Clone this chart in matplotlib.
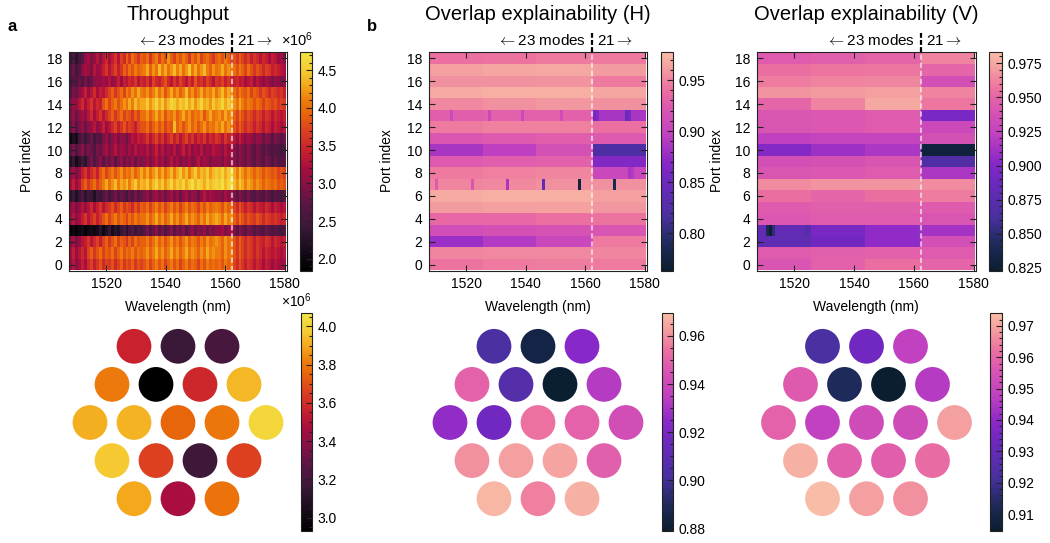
import numpy as np
import matplotlib
matplotlib.use('Agg')
import matplotlib.pyplot as plt
from matplotlib.colors import LinearSegmentedColormap
from matplotlib.patches import Circle
from matplotlib.ticker import MultipleLocator, FormatStrFormatter
import matplotlib.transforms as mtrans

plt.rcParams['font.family'] = ['Liberation Sans', 'DejaVu Sans']
plt.rcParams['mathtext.fontset'] = 'custom'
plt.rcParams['mathtext.rm'] = 'Liberation Sans'
plt.rcParams['mathtext.it'] = 'Liberation Sans:italic'

# ---------------- data ----------------
wavelengths = np.arange(1508, 1581)          # nm, 73 columns
ports = np.arange(19)
mode_switch_nm = 1562.3                      # 23 modes | 21 modes

# throughput (x1e6, stored x10), rows = port 18 ... port 0
throughput_rows_top_down = [
    [24,26,23,25,27, 30,32,29,31,33,30, 33,35,32,34,36,33, 37,35,39,36,40,38,36,39, 38,40,36,39,41,37,40,38,42,39,37,40,38,41,39,36,40,38,41,37,39,40,38,36,39, 40,38,41,39,37, 38,36,39,37,35,37,34,36,35,33,35,34,32,34,33,31,32,30],
    [26,28,25,27, 30,32,31,29,33,31,32, 34,36,33,35,37,34,36, 39,37,40,38,41,39,40, 41,43,39,42,40,44,41,43,40,42,44,41,43,40,42,45,41,43,40,42,44,41,39,42,40, 41,43,40,42,41, 40,38,41,39,37,40,38,36,38,37,35,37,36,34,35,34,33,32],
    [25,27,26,28,26,29,27,28,30, 31,30,32,31,33,30,32,34,31, 34,33,35,34,36,33,35, 34,36,33,37,35,34,36,38,35,33,36,34,37,35,33,36,34,38,35,36,34,37,35,33,36, 35,37,34,36,35, 34,35,33,34,32,33,34,31,33,32,30,32,31,29,31,30,29,30],
    [27,29,28,30, 32,34,31,33,35,32,34,33,35, 37,39,36,38,40,37, 41,39,42,40,43,41, 40,42,39,41,43,40,42,38,41,43,40,42,39,41,44,40,42,39,41,43,40,42,41,43,40, 42,44,41,43,42, 40,38,41,39,38,40,37,39,38,36,38,37,35,37,36,35,36,34],
    [29,31,30, 33,35,32,34,36,33,35,34, 38,40,37,39,41,38,40, 42,40,43,41,44,42,43, 43,45,42,44,46,43,45,42,44,46,45,43,45,44,46,43,45,42,44,46,43,44,42,45,43, 44,46,43,45,44, 42,40,43,41,39,41,40,38,40,39,37,39,38,37,38,36,37,36],
    [29,31,28,30,32,30, 33,35,32,34,36,33,35, 37,39,36,38,40,37,39,38,36,39,37,40, 40,42,39,41,43,40,42,38,41,40,42,39,41,43,40,42,39,41,40,42,38,41,43,40,41, 42,40,43,41,42, 39,37,40,38,36,38,37,35,37,36,34,36,35,33,35,34,33,34],
    [28,30,27,29,31,28,30, 31,33,30,32,34,31,33, 35,37,34,36,38,35,37,36,34,37,38, 38,40,37,39,41,38,40,37,39,38,44,39,41,38,40,42,39,41,38,40,42,39,41,40,42, 41,43,40,42,41, 38,36,39,37,35,37,36,34,36,35,33,35,34,32,34,33,32,33],
    [20,22,21, 25,27,24,26,28,25,27,26, 29,31,28,30,32,29,31,30,28,31, 33,32,34,33, 34,36,33,35,37,34,36,33,35,37,34,36,33,35,37,34,36,33,35,34,36,33,35,34,36, 35,33,36,34,35, 33,31,34,32,30,32,31,29,31,30,28,30,29,27,29,28,27,28],
    [27,29,26,28,30,27,29,28,26,29,28, 30,32,29,31,33,30,32,31,29,32,30,33,31,32, 31,33,30,32,34,31,33,30,32,31,33,30,32,34,31,33,30,32,31,33,30,32,31,33,32, 32,30,33,31,32, 30,28,31,29,28,30,28,27,29,28,26,28,27,26,27,26,25,26],
    [22,24,21,23,25,23, 27,29,26,28,30,27,29,28,30,27,29,31,28,30,29,31,28,30,29, 30,32,29,31,33,30,32,29,31,33,30,32,29,31,30,32,29,31,33,30,32,31,29,31,30, 31,29,32,30,31, 30,28,31,29,28,30,28,27,29,28,27,29,28,26,28,27,26,27],
    [30,32,29,31, 34,36,33,35,37,34, 38,40,37,39,41,38,40,42,39,41,40,42,39,41,43, 41,43,40,42,44,41,43,40,42,44,41,43,45,42,44,41,43,45,42,44,43,45,42,44,45, 44,46,43,45,46, 43,41,44,42,40,42,41,39,41,40,38,40,39,38,39,37,38,37],
    [32,34,31,33, 37,39,36,38,40,37,39, 41,43,40,42,44,41,43,42,44,41,43,45,42,44, 43,45,42,44,46,43,45,42,44,46,43,45,44,46,43,45,47,44,46,45,43,46,44,45,46, 45,47,44,46,47, 44,42,45,43,41,43,42,40,42,41,39,41,40,39,40,38,39,38],
    [23,25,22,24,26,23,25,24,22,25,24, 26,28,25,27,29,26,28,27,25,28,26,29,27,28, 29,31,28,30,32,29,31,28,30,32,29,31,28,30,32,29,31,30,28,31,33,30,32,31,30, 31,29,32,30,31, 29,27,30,28,27,29,27,26,28,27,26,28,27,25,27,26,25,26],
    [30,32,29,31,33,31, 33,35,32,34,36,33,35, 36,38,35,37,39,36,38,37,35,38,36,39, 38,40,37,39,41,38,40,37,39,41,38,40,37,39,41,38,40,39,37,40,38,41,39,40,41, 40,38,41,39,40, 37,35,38,36,34,36,35,33,35,34,33,35,34,32,34,33,32,33],
    [31,33,30,32, 34,36,33,35,37,34,36, 38,40,37,39,41,38,40,39,37,40,38,41,39,40, 40,42,39,41,43,40,42,39,41,43,40,42,39,41,43,40,42,41,39,42,40,43,41,42,43, 42,40,43,41,42, 39,37,40,38,36,38,37,36,38,37,35,37,36,35,36,35,34,35],
    [19,20,19,20,21,19,20,21,20, 21,23,20,22,24,21,23,22, 24,26,23,25,27,24,26,25, 27,29,26,28,30,27,29,26,28,30,27,29,28,30,27,29,31,28,30,29,31,28,30,29,31, 30,32,29,31,32, 29,27,30,28,27,29,28,26,28,27,26,28,27,26,27,26,25,26],
    [30,32,29,31,33, 34,36,33,35,37,34, 37,39,36,38,40,37,39,38,36,39,37,40,38,39, 39,41,38,40,42,39,41,38,40,42,39,41,38,40,42,39,41,40,38,41,39,42,40,41,42, 41,39,42,40,41, 38,36,39,37,35,37,36,34,36,35,34,36,35,33,35,34,33,34],
    [32,34,31,33,35,33, 37,39,36,38,40,37,39,38,40,37,39,41,38,40,39,41,38,40,39, 40,42,39,41,43,40,42,39,41,43,40,42,39,41,43,40,42,41,39,42,40,43,41,42,41, 41,39,42,40,41, 38,36,39,37,35,37,36,34,36,35,33,35,34,33,34,33,32,33],
    [31,33,30,32,34,32, 35,37,34,36,38,35,37,36,38,35,37,39,36,38,37,39,36,38,37, 38,40,37,39,41,38,40,37,39,41,38,40,37,39,41,38,40,39,37,40,38,41,39,40,39, 40,38,41,39,40, 37,35,38,36,34,36,35,33,35,34,32,34,33,31,33,32,31,32],
]

# overlap explainability: block values per port (rows = port 18 ... port 0)
block_cols = [(0, 18), (18, 36), (36, 55), (55, 73)]
h_blocks_top_down = [
    [0.940, 0.942, 0.945, 0.945], [0.962, 0.965, 0.966, 0.960], [0.955, 0.955, 0.957, 0.945],
    [0.968, 0.970, 0.970, 0.965], [0.952, 0.955, 0.958, 0.955], [0.928, 0.930, 0.930, 0.885],
    [0.945, 0.948, 0.948, 0.940], [0.922, 0.925, 0.928, 0.925], [0.885, 0.895, 0.915, 0.820],
    [0.925, 0.928, 0.930, 0.865], [0.945, 0.948, 0.950, 0.905], [0.950, 0.952, 0.955, 0.955],
    [0.968, 0.970, 0.970, 0.962], [0.960, 0.962, 0.963, 0.958], [0.935, 0.935, 0.940, 0.942],
    [0.912, 0.915, 0.918, 0.920], [0.878, 0.890, 0.905, 0.945], [0.950, 0.952, 0.952, 0.950],
    [0.942, 0.945, 0.947, 0.945],
]
h_spots = [  # (port, column, value)
    (13, 7, 0.905), (13, 20, 0.905), (13, 31, 0.905), (13, 44, 0.91),
    (13, 55, 0.855), (13, 56, 0.865), (13, 66, 0.845), (13, 67, 0.86),
    (7, 2, 0.925), (7, 14, 0.92), (7, 26, 0.885), (7, 38, 0.84), (7, 50, 0.772),
    (7, 62, 0.785), (8, 67, 0.885), (8, 68, 0.89),
]
v_blocks_top_down = [
    [0.945, 0.947, 0.950, 0.962], [0.955, 0.957, 0.958, 0.950], [0.960, 0.962, 0.963, 0.935],
    [0.968, 0.970, 0.972, 0.962], [0.950, 0.962, 0.975, 0.958], [0.940, 0.942, 0.945, 0.895],
    [0.940, 0.942, 0.945, 0.930], [0.922, 0.925, 0.925, 0.937], [0.900, 0.910, 0.915, 0.830],
    [0.935, 0.937, 0.940, 0.868], [0.940, 0.942, 0.945, 0.915], [0.965, 0.967, 0.967, 0.965],
    [0.955, 0.950, 0.955, 0.960], [0.945, 0.947, 0.947, 0.945], [0.942, 0.945, 0.945, 0.940],
    [0.880, 0.895, 0.905, 0.912], [0.878, 0.890, 0.905, 0.935], [0.945, 0.947, 0.948, 0.945],
    [0.940, 0.948, 0.955, 0.950],
]
v_spots = [(3, 3, 0.84), (3, 4, 0.825), (3, 5, 0.85), (3, 16, 0.87), (3, 17, 0.875)]

# fibre-bundle (hexagonal) averages, read row by row from top
hex_row_counts = [3, 4, 5, 4, 3]
thr_hex = [3.56, 3.16, 3.21,
           3.81, 2.93, 3.58, 3.93,
           3.91, 3.92, 3.75, 3.80, 4.02,
           3.97, 3.66, 3.17, 3.66,
           3.90, 3.47, 3.79]
h_hex = [0.902, 0.885, 0.924,
         0.950, 0.906, 0.880, 0.933,
         0.926, 0.917, 0.954, 0.950, 0.942,
         0.960, 0.963, 0.964, 0.949,
         0.968, 0.957, 0.967]
v_hex = [0.922, 0.934, 0.948,
         0.957, 0.913, 0.905, 0.946,
         0.959, 0.948, 0.952, 0.952, 0.969,
         0.972, 0.958, 0.958, 0.961,
         0.974, 0.969, 0.967]

# ---------------- colormaps ----------------
thr_cmap = LinearSegmentedColormap.from_list('thr', [
    (0.0, '#000000'), (0.1, '#1a0c1c'), (0.2, '#3a1838'), (0.3, '#5a1545'),
    (0.4, '#8a1045'), (0.47, '#a80d40'), (0.55, '#c8202e'), (0.64, '#dc4020'),
    (0.72, '#e8650a'), (0.78, '#ee7c0c'), (0.85, '#f4a81c'), (0.91, '#f4c830'),
    (1.0, '#f2e444')])
ov_cmap = LinearSegmentedColormap.from_list('ov', [
    (0.0, '#0a1e30'), (0.12, '#1e2a5a'), (0.25, '#4a30a0'), (0.42, '#7028c0'),
    (0.5, '#8a28c8'), (0.62, '#c040c0'), (0.75, '#dc58b0'), (0.83, '#ec70a0'),
    (0.93, '#f4a0a0'), (1.0, '#f9bca6')])


def build_blocks(blocks_top_down, spots):
    M = np.zeros((19, len(wavelengths)))
    for i, row in enumerate(blocks_top_down):
        port = 18 - i
        for (c0, c1), v in zip(block_cols, row):
            M[port, c0:c1] = v
    for port, col, v in spots:
        M[port, col] = v
    return M


thr = np.array(throughput_rows_top_down, dtype=float)[::-1] / 10.0
H = build_blocks(h_blocks_top_down, h_spots)
V = build_blocks(v_blocks_top_down, v_spots)

# ---------------- figure ----------------
W, Hh = 1050, 543
fig = plt.figure(figsize=(W / 100, Hh / 100), dpi=100)


def box(l, t, r, b):
    return [l / W, 1 - b / Hh, (r - l) / W, (b - t) / Hh]


def ftext(x, y, s, **kw):
    fig.text(x / W, 1 - y / Hh, s, **kw)


spine_c = '#222222'
xedges = np.append(wavelengths - 0.5, wavelengths[-1] + 0.5)
yedges = np.arange(-0.5, 19.5, 1.0)


def heat(l, r, M, cmap, vmin, vmax):
    ax = fig.add_axes(box(l, 52, r, 271))
    pcm = ax.pcolormesh(xedges, yedges, M, cmap=cmap, vmin=vmin, vmax=vmax,
                        shading='flat', rasterized=True)
    ax.set_xlim(1507.5, 1580.8)
    ax.set_ylim(-0.55, 18.55)
    ax.set_xticks([1520, 1540, 1560, 1580])
    ax.set_yticks(np.arange(0, 19, 2))
    ax.tick_params(direction='in', top=True, right=True, length=4, width=0.8,
                   labelsize=10, color=spine_c)
    ax.tick_params(axis='y', pad=5)
    ax.tick_params(axis='x', pad=4)
    for s in ax.spines.values():
        s.set_linewidth(0.8)
        s.set_color(spine_c)
    ax.axvline(mode_switch_nm, color='white', alpha=0.6, lw=1.5,
               ls=(0, (2.5, 1.4)))
    tr = mtrans.blended_transform_factory(ax.transData, ax.transAxes)
    ax.plot([mode_switch_nm, mode_switch_nm], [1.0, 1.085], transform=tr,
            color='black', lw=1.6, ls=(0, (2.2, 1.0)), clip_on=False)
    ax.text(mode_switch_nm - 2.0, 1.03, r'$\leftarrow$23 modes', transform=tr,
            ha='right', va='baseline', fontsize=11, math_fontfamily='cm')
    ax.text(mode_switch_nm + 1.8, 1.03, r'21$\rightarrow$', transform=tr,
            ha='left', va='baseline', fontsize=11, math_fontfamily='cm')
    return ax, pcm


def cbar(pcm, l, r, t, b, major, minor, fmt):
    cax = fig.add_axes(box(l, t, r, b))
    cb = fig.colorbar(pcm, cax=cax)
    cb.set_ticks(major)
    cax.yaxis.set_minor_locator(MultipleLocator(minor))
    cax.yaxis.set_major_formatter(FormatStrFormatter(fmt))
    cax.tick_params(which='both', direction='in', right=True, left=False,
                    labelsize=10, width=0.8, color=spine_c, pad=4)
    cax.tick_params(which='major', length=4)
    cax.tick_params(which='minor', length=2)
    cb.outline.set_linewidth(0.8)
    cb.outline.set_edgecolor(spine_c)
    return cb


def hexplot(l, r, vals, cmap, vmin, vmax):
    ax = fig.add_axes(box(l, 310, r, 535))
    unit = 44.0
    hw = (r - l) / 2 / unit
    ax.set_xlim(-hw, hw)
    ax.set_ylim(-112.5 / unit, 112.5 / unit)
    ax.axis('off')
    norm = plt.Normalize(vmin, vmax)
    k = 0
    for ri, n in enumerate(hex_row_counts):
        y = (2 - ri) * np.sqrt(3) / 2
        for j in range(n):
            x = j - (n - 1) / 2
            ax.add_patch(Circle((x, y), 0.395, facecolor=cmap(norm(vals[k])),
                                edgecolor='none'))
            k += 1
    sm = plt.cm.ScalarMappable(norm=norm, cmap=cmap)
    return ax, sm


# top row
axA, pA = heat(69, 287, thr, thr_cmap, 1.84, 4.74)
axB, pB = heat(429, 647, H, ov_cmap, 0.763, 0.9775)
axC, pC = heat(757, 976, V, ov_cmap, 0.8226, 0.9833)

cbar(pA, 300, 312, 52, 271, np.arange(2.0, 4.51, 0.5), 0.1, '%.1f')
cbar(pB, 661, 673, 52, 271, [0.80, 0.85, 0.90, 0.95], 0.01, '%.2f')
cbar(pC, 989, 1002, 52, 271, np.arange(0.825, 0.976, 0.025), 0.005, '%.3f')

# bottom row
_, sA = hexplot(69, 287, thr_hex, thr_cmap, 2.93, 4.07)
_, sB = hexplot(429, 647, h_hex, ov_cmap, 0.879, 0.9695)
_, sC = hexplot(757, 976, v_hex, ov_cmap, 0.9046, 0.9741)
cbar(sA, 301, 312, 313, 531, np.arange(3.0, 4.01, 0.2), 0.05, '%.1f')
cbar(sB, 662, 673, 313, 531, np.arange(0.88, 0.961, 0.02), 0.005, '%.2f')
cbar(sC, 990, 1002, 313, 531, np.arange(0.91, 0.971, 0.01), 0.002, '%.2f')

# texts
ftext(178, 20, 'Throughput', ha='center', va='baseline', fontsize=14.5)
ftext(538, 20, 'Overlap explainability (H)', ha='center', va='baseline', fontsize=14.5)
ftext(866, 20, 'Overlap explainability (V)', ha='center', va='baseline', fontsize=14.5)
ftext(7, 31, 'a', ha='left', va='baseline', fontsize=12, fontweight='bold')
ftext(367, 31, 'b', ha='left', va='baseline', fontsize=12, fontweight='bold')
for cx in (178, 538, 866):
    ftext(cx, 311, 'Wavelength (nm)', ha='center', va='baseline', fontsize=10)
for lx in (27, 387, 717):
    ftext(lx, 161, 'Port index', ha='center', va='center', rotation=90, fontsize=10)
ftext(281, 46, r'$\times10^{6}$', ha='left', va='baseline', fontsize=10.5)
ftext(281, 307, r'$\times10^{6}$', ha='left', va='baseline', fontsize=10)

fig.savefig('out.png', dpi=100)
